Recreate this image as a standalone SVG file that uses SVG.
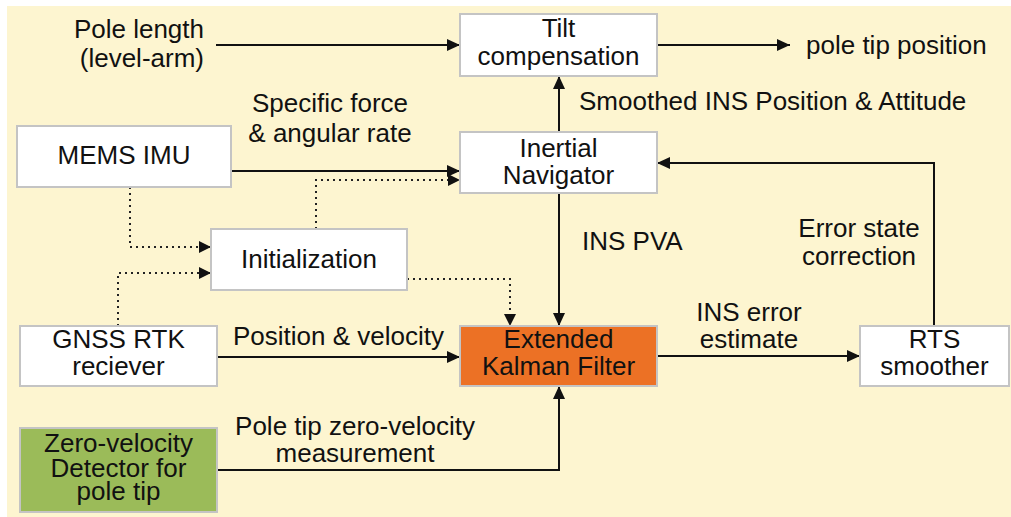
<svg xmlns="http://www.w3.org/2000/svg" width="1011" height="517" viewBox="0 0 1011 517">
  <style>
    .box { fill: #ffffff; stroke: #c4c4c4; stroke-width: 2; }
    .t { font-family: "Liberation Sans", Arial, sans-serif; font-size: 26px; fill: #111111; }
    .c { text-anchor: middle; }
    .ln { fill: none; stroke: #111111; stroke-width: 2; marker-end: url(#arr); }
    .dt { fill: none; stroke: #222222; stroke-width: 2; stroke-dasharray: 2 4; marker-end: url(#arrs); }
  </style>
  <defs>
    <marker id="arr" markerUnits="userSpaceOnUse" markerWidth="13" markerHeight="12" refX="13" refY="6" orient="auto">
      <path d="M0,0 L13,6 L0,12 z" fill="#111111"/>
    </marker>
    <marker id="arrs" markerUnits="userSpaceOnUse" markerWidth="12" markerHeight="12" refX="12" refY="6" orient="auto">
      <path d="M0,0 L12,6 L0,12 z" fill="#111111"/>
    </marker>
  </defs>
  <rect x="0" y="0" width="1011" height="517" fill="#ffffff"/>
  <rect x="7" y="6" width="1004" height="511" fill="#fdf5d0"/>

  <g id="connectors">
    <path class="ln" d="M216,45 H460"/>
    <path class="ln" d="M657,45 H790"/>
    <path class="ln" d="M559,132 V76"/>
    <path class="ln" d="M231,171 H460"/>
    <path class="dt" d="M316,229 V180 H460"/>
    <path class="dt" d="M130,187 V247 H211"/>
    <path class="dt" d="M118,326 V273 H211"/>
    <path class="dt" d="M407,279 H510 V326"/>
    <path class="ln" d="M559,193 V326"/>
    <path class="ln" d="M217,357 H460"/>
    <path class="ln" d="M217,470 H559 V386"/>
    <path class="ln" d="M657,356 H860"/>
    <path class="ln" d="M934,326 V163 H657"/>
  </g>

  <g id="labels">
    <text class="t" x="204" y="38" text-anchor="end">Pole length</text>
    <text class="t" x="204" y="67" text-anchor="end">(level-arm)</text>
    <text class="t" x="806" y="54" font-size="28">pole tip position</text>
    <text class="t c" x="330" y="112">Specific force</text>
    <text class="t c" x="330" y="142">&amp; angular rate</text>
    <text class="t" x="579" y="110" font-size="26.5">Smoothed INS Position &amp; Attitude</text>
    <text class="t" x="582" y="250">INS PVA</text>
    <text class="t c" x="859" y="237">Error state</text>
    <text class="t c" x="859" y="265">correction</text>
    <text class="t c" x="749" y="321">INS error</text>
    <text class="t c" x="749" y="348">estimate</text>
    <text class="t" x="233" y="345">Position &amp; velocity</text>
    <text class="t c" x="355" y="435">Pole tip zero-velocity</text>
    <text class="t c" x="355" y="462">measurement</text>
  </g>

  <g id="tilt">
    <rect class="box" x="460" y="14" width="197" height="62"/>
    <text class="t c" x="558.5" y="37">Tilt</text>
    <text class="t c" x="558.5" y="65">compensation</text>
  </g>
  <g id="inertial">
    <rect class="box" x="460" y="132" width="197" height="61"/>
    <text class="t c" x="558.5" y="157">Inertial</text>
    <text class="t c" x="558.5" y="184">Navigator</text>
  </g>
  <g id="mems">
    <rect class="box" x="17" y="126" width="214" height="61"/>
    <text class="t c" x="124" y="164">MEMS IMU</text>
  </g>
  <g id="init">
    <rect class="box" x="211" y="229" width="196" height="61"/>
    <text class="t c" x="309" y="268">Initialization</text>
  </g>
  <g id="gnss">
    <rect class="box" x="20" y="326" width="197" height="60"/>
    <text class="t c" x="118.5" y="348">GNSS RTK</text>
    <text class="t c" x="118.5" y="375">reciever</text>
  </g>
  <g id="zupt">
    <rect class="box" x="20" y="428" width="197" height="84" style="fill:#9bbb59"/>
    <text class="t c" x="118.5" y="452">Zero-velocity</text>
    <text class="t c" x="118.5" y="477">Detector for</text>
    <text class="t c" x="118.5" y="500">pole tip</text>
  </g>
  <g id="ekf">
    <rect class="box" x="460" y="326" width="197" height="60" style="fill:#ec7125"/>
    <text class="t c" x="558.5" y="348">Extended</text>
    <text class="t c" x="558.5" y="375">Kalman Filter</text>
  </g>
  <g id="rts">
    <rect class="box" x="860" y="326" width="149" height="60"/>
    <text class="t c" x="934.5" y="348">RTS</text>
    <text class="t c" x="934.5" y="375">smoother</text>
  </g>
</svg>
